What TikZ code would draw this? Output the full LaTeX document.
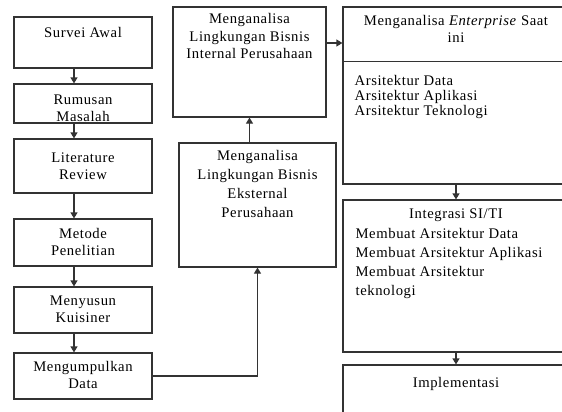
\documentclass[tikz,border=0pt]{standalone}
\usepackage{fontspec}
\setmainfont[LetterSpace=4]{Liberation Serif}
\usepackage{tikz}
\usetikzlibrary{calc,arrows.meta}
\definecolor{garis}{HTML}{333333}
\definecolor{tinta}{HTML}{000000}
\tikzset{
  kotak/.style={draw=garis, line width=1.2pt, inner sep=0pt},
  panah/.style={draw=garis, line width=1.2pt, -{Triangle[width=7pt,length=6pt]}},
  teks/.style={text=tinta, inner sep=0pt, align=center, font=\fontsize{14.67}{17}\selectfont},
  teksb/.style={teks, font=\fontsize{14.67}{19}\selectfont},
  daftar/.style={teksb, align=left},
}

\begin{document}
\begin{tikzpicture}[x=1pt, y=-1pt]
  \useasboundingbox (0,0) rectangle (562,412);
  \clip (0,0) rectangle (562,412);
  % kolom kiri
  \node[kotak, minimum width=138pt, minimum height=51pt] (survei) at (83,42.5) {};
  \node[kotak, minimum width=138pt, minimum height=39pt] (rumusan) at (83,103.5) {};
  \node[kotak, minimum width=138pt, minimum height=54pt] (literatur) at (83,166) {};
  \node[kotak, minimum width=138pt, minimum height=47pt] (metode) at (83,242.5) {};
  \node[kotak, minimum width=138pt, minimum height=46pt] (kuisiner) at (83,310) {};
  \node[kotak, minimum width=138pt, minimum height=46pt] (kumpul) at (83,376) {};
  \node[teks, anchor=north] (tsurvei) at ($(survei.north)+(0,11)$) {Survei Awal};
  \node[teks, anchor=north] (trumusan) at ($(rumusan.north)+(0,11)$) {Rumusan\\Masalah};
  \node[teks, anchor=north] (tliteratur) at ($(literatur.north)+(0,14)$) {Literature\\Review};
  \node[teks, anchor=north] (tmetode) at ($(metode.north)+(0,10)$) {Metode\\Penelitian};
  \node[teks, anchor=north] (tkuisiner) at ($(kuisiner.north)+(0,9)$) {Menyusun\\Kuisiner};
  \node[teks, anchor=north] (tkumpul) at ($(kumpul.north)+(0,9)$) {Mengumpulkan\\Data};
  \foreach \a/\b in {survei/rumusan, rumusan/literatur, literatur/metode, metode/kuisiner, kuisiner/kumpul}
    \draw[panah] ([xshift=-9pt]\a.south) -- ([xshift=-9pt]\b.north);

  % kolom tengah
  \node[kotak, minimum width=153pt, minimum height=110pt] (internal) at (249.5,62) {};
  \node[kotak, minimum width=157pt, minimum height=124pt] (eksternal) at (257.5,205) {};
  \node[teks, anchor=north, font=\fontsize{14.67}{17.5}\selectfont] (tinternal) at ($(internal.north)+(0,7)$) {Menganalisa\\Lingkungan Bisnis\\Internal Perusahaan};
  \node[teksb, anchor=north] (teksternal) at ($(eksternal.north)+(0,8)$) {Menganalisa\\Lingkungan Bisnis\\Eksternal\\Perusahaan};
  \draw[panah] (kumpul.east) -| (eksternal.south);
  \draw[panah] (eksternal.north -| internal.south) -- (internal.south);

  % kolom kanan
  \node[kotak, minimum width=226pt, minimum height=177pt] (enterprise) at (456,95.5) {};
  \node[kotak, minimum width=226pt, minimum height=152pt] (integrasi) at (456,276) {};
  \node[kotak, minimum width=226pt, minimum height=65pt] (implementasi) at (456,397.5) {};
  \draw[kotak] ($(enterprise.north west)+(0,55)$) -- ($(enterprise.north east)+(0,55)$);
  \node[teks, anchor=north] (tenterprise) at ($(enterprise.north)+(0,9)$) {Menganalisa \textit{Enterprise} Saat\\ini};
  \node[daftar, anchor=north west, font=\fontsize{14.67}{15}\selectfont] (tarsitektur) at ($(enterprise.north west)+(12,69)$) {Arsitektur Data\\Arsitektur Aplikasi\\Arsitektur Teknologi};
  \node[teks, anchor=north] (tintegrasi) at ($(integrasi.north)+(0,9)$) {Integrasi SI/TI};
  \node[daftar, anchor=north west] (tmembuat) at ($(integrasi.north west)+(13,29)$) {Membuat Arsitektur Data\\Membuat Arsitektur Aplikasi\\Membuat Arsitektur\\teknologi};
  \node[teks, anchor=north] (timplementasi) at ($(implementasi.north)+(0,13)$) {Implementasi};
  \draw[panah] ([yshift=19pt]internal.east) -- ([yshift=19pt]internal.east -| enterprise.west);
  \draw[panah] (enterprise.south) -- (integrasi.north);
  \draw[panah] (integrasi.south) -- (implementasi.north);
\end{tikzpicture}
\end{document}
